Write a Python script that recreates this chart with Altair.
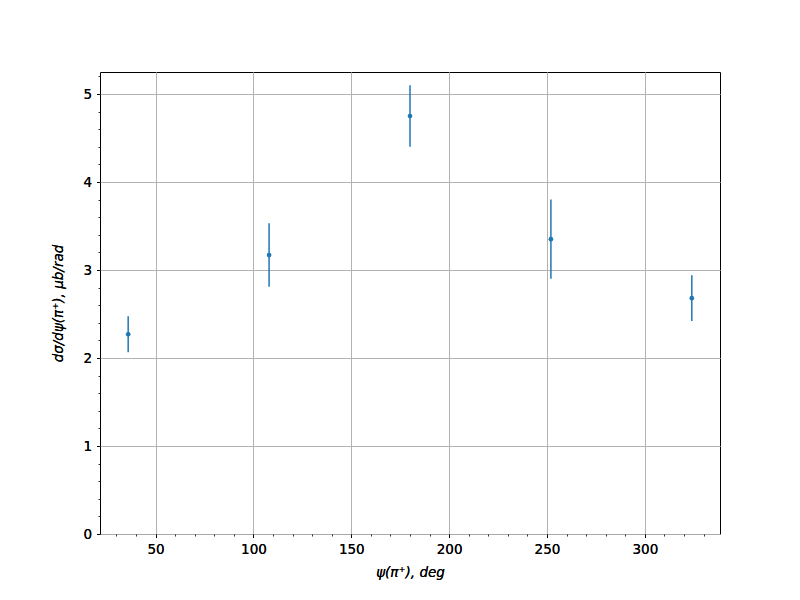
import altair as alt
import pandas as pd

# data
psi = [36, 108, 180, 252, 324]
xsec = [2.27, 3.17, 4.75, 3.35, 2.68]
err = [0.205, 0.36, 0.35, 0.45, 0.26]

x_major = [50, 100, 150, 200, 250, 300]
x_minor = [30, 40, 60, 70, 80, 90, 110, 120, 130, 140, 160, 170, 180, 190,
           210, 220, 230, 240, 260, 270, 280, 290, 310, 320, 330]
y_major = [0, 1, 2, 3, 4, 5]
y_minor = [0.2, 0.4, 0.6, 0.8, 1.2, 1.4, 1.6, 1.8, 2.2, 2.4, 2.6, 2.8,
           3.2, 3.4, 3.6, 3.8, 4.2, 4.4, 4.6, 4.8, 5.2]

df = pd.DataFrame({"psi": psi, "xsec": xsec, "err": err})
df["lo"] = df["xsec"] - df["err"]
df["hi"] = df["xsec"] + df["err"]

color = "#1f77b4"
xscale = alt.Scale(domain=[21.6, 338.4], nice=False, zero=False)
yscale = alt.Scale(domain=[0, 5.25], nice=False, zero=False)

x_axis = alt.Axis(values=x_major, grid=True, title="ψ(π⁺), deg", titleFontStyle="italic",
                  tickSize=3.5, labelPadding=5, titlePadding=9, orient="bottom", format="d")
y_axis = alt.Axis(values=y_major, grid=True, title="dσ/dψ(π⁺), μb/rad", titleFontStyle="italic",
                  tickSize=3.5, labelPadding=5, titlePadding=17, orient="left", format="d")

bars = alt.Chart(df).mark_rule(color=color, strokeWidth=1.5).encode(
    x=alt.X("psi:Q", scale=xscale, axis=x_axis),
    y=alt.Y("lo:Q", scale=yscale, axis=y_axis),
    y2="hi:Q",
)

pts = alt.Chart(df).mark_circle(color=color, size=22, opacity=1).encode(
    x=alt.X("psi:Q", scale=xscale, axis=x_axis),
    y=alt.Y("xsec:Q", scale=yscale, axis=y_axis),
)

minor = alt.Chart(df).mark_circle(opacity=0).encode(
    x=alt.X("psi:Q", scale=xscale,
            axis=alt.Axis(values=x_minor, labels=False, grid=False, title=None,
                          tickSize=2, orient="bottom")),
    y=alt.Y("xsec:Q", scale=yscale,
            axis=alt.Axis(values=y_minor, labels=False, grid=False, title=None,
                          tickSize=2, orient="left")),
)

chart = alt.layer(bars, pts, minor).resolve_axis(x="independent", y="independent").properties(
    width=620, height=462,
    autosize=alt.AutoSizeParams(type="none"),
    padding={"left": 92, "top": 64, "right": 72, "bottom": 58},
).configure_view(
    stroke="black", strokeWidth=1
).configure_axis(
    domain=False,
    tickColor="black", tickWidth=0.8,
    labelColor="black", labelFont="DejaVu Sans", labelFontSize=13.5, labelFontWeight="normal",
    titleColor="black", titleFont="DejaVu Sans", titleFontSize=13.5, titleFontWeight="normal",
    gridColor="#b0b0b0", gridWidth=0.8,
)

chart.save("out.html", embed_options={"renderer": "svg", "actions": False})
